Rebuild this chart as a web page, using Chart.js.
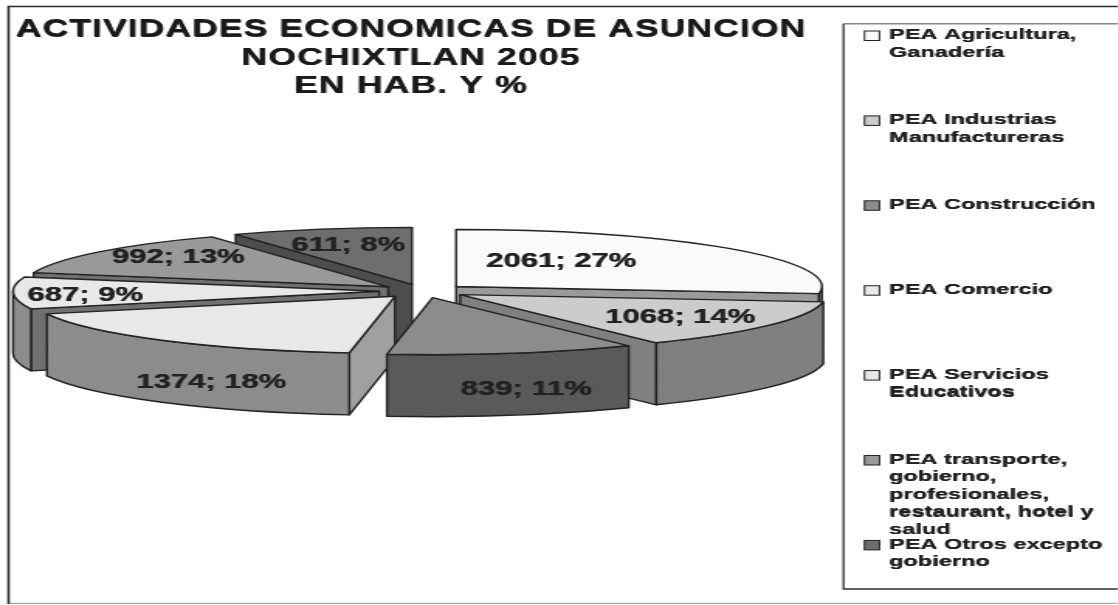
<!DOCTYPE html>
<html><head><meta charset="utf-8">
<style>html,body{margin:0;padding:0;background:#fff;overflow:hidden}
#wrap{width:1118px;height:605px;overflow:hidden}
canvas{display:block;transform-origin:0 0;transform:scaleX(1.55)}</style>
<script src="https://cdn.jsdelivr.net/npm/chart.js@4/dist/chart.umd.min.js"></script>
</head><body><div id="wrap"><canvas id="c" width="722" height="605"></canvas></div>
<script>
const titleLines = ["ACTIVIDADES ECONOMICAS DE ASUNCION","NOCHIXTLAN 2005","EN HAB. Y %"];
const categories = ["PEA Agricultura, Ganadería","PEA Industrias Manufactureras","PEA Construcción","PEA Comercio","PEA Servicios Educativos","PEA transporte, gobierno, profesionales, restaurant, hotel y salud","PEA Otros excepto gobierno"];
const legendLines = [["PEA Agricultura,","Ganadería"],["PEA Industrias","Manufactureras"],["PEA Construcción"],["PEA Comercio"],["PEA Servicios","Educativos"],["PEA transporte,","gobierno,","profesionales,","restaurant, hotel y","salud"],["PEA Otros excepto","gobierno"]];
const values = [2061,1068,839,1374,687,992,611];
const percents = [27,14,11,18,9,13,8];
const topColors = ["#fafafa","#cccccc","#8c8c8c","#e8e8e8","#e8e8e8","#999999","#6e6e6e"];
const wallColors = ["#9a9a9a","#808080","#5a5a5a","#8c8c8c","#8c8c8c","#707070","#4d4d4d"];
const sideColors = ["#9a9a9a","#808080","#5a5a5a","#a0a0a0","#707070","#707070","#4d4d4d"];
const paintOrder = [6,5,4,3,0,1,2];
const labelSpots = [[561,261],[680,317],[526,389],[211,382],[85,295],[178,257],[348,245]];

const S = 1.55;                 // horizontal stretch of the page image
const centre = {x:423/S, y:291};
const rx = 366/S, ry = 57, depth = 62, explodeRatio = 44/366;
const INK = "#222";

function heavyInk(c,dx){ c.shadowColor=INK; c.shadowBlur=0; c.shadowOffsetX=dx; c.shadowOffsetY=0.25; }
function plainInk(c){ c.shadowColor="transparent"; c.shadowOffsetX=0; c.shadowOffsetY=0; }

const stretched3D = {
  id:"stretched3D",
  beforeDraw(chart){
    const c = chart.ctx; c.save();
    c.fillStyle="#fff"; c.fillRect(0,0,chart.width,chart.height);
    c.strokeStyle="#aaa"; c.lineWidth=1.2;
    c.beginPath(); c.moveTo(8/S,603.3); c.lineTo(1118/S,603.3); c.stroke();
    c.strokeStyle="#2a2a2a"; c.lineWidth=1.6;
    c.beginPath(); c.moveTo(8.5/S,604); c.lineTo(8.5/S,6.5); c.lineTo(1118/S,6.5); c.stroke();
    c.restore();
    // the title layer draws next and picks these up
    heavyInk(c,0.4); c.letterSpacing="0.7px";
  },
  beforeDatasetsDraw(chart){
    const c = chart.ctx, arcs = chart.getDatasetMeta(0).data;
    plainInk(c); c.letterSpacing="0px";
    const clock = a => a + Math.PI/2;         // chart angle to clockwise-from-top
    c.save(); c.lineJoin="round"; c.lineWidth=1.4; c.strokeStyle=INK;
    paintOrder.forEach(i=>{
      const el = arcs[i], a0 = el.startAngle, a1 = el.endAngle;
      const mid = (a0+a1)/2;
      const ax = centre.x + Math.cos(mid)*explodeRatio*rx, ay = centre.y + Math.sin(mid)*explodeRatio*ry;
      const pt = a => [ax+Math.cos(a)*rx, ay+Math.sin(a)*ry];
      // radial face that looks toward the viewer
      const face = (a,col)=>{ const p=pt(a);
        c.beginPath(); c.moveTo(ax,ay); c.lineTo(p[0],p[1]); c.lineTo(p[0],p[1]+depth); c.lineTo(ax,ay+depth); c.closePath();
        c.fillStyle=col; c.fill(); c.stroke(); };
      if (Math.sin(clock(a0))<0) face(a0,sideColors[i]);
      if (Math.sin(clock(a1))>0) face(a1,sideColors[i]);
      // outer wall, front half only (chart angles 0..PI)
      const w0=Math.max(a0,0), w1=Math.min(a1,Math.PI);
      if (w1>w0){
        c.beginPath(); c.ellipse(ax,ay,rx,ry,0,w0,w1);
        c.ellipse(ax,ay+depth,rx,ry,0,w1,w0,true); c.closePath();
        c.fillStyle=wallColors[i]; c.fill(); c.stroke();
      }
      // top face
      c.beginPath(); c.moveTo(ax,ay); c.ellipse(ax,ay,rx,ry,0,a0,a1); c.closePath();
      c.fillStyle=topColors[i]; c.fill(); c.stroke();
    });
    c.restore();
    return false;
  },
  afterDraw(chart){
    const c = chart.ctx; c.save();
    // legend panel: open on the right, grey along the top
    c.strokeStyle="#888"; c.lineWidth=1.6;
    c.beginPath(); c.moveTo(843.5/S,23.8); c.lineTo(1118/S,23.8); c.stroke();
    c.strokeStyle="#333"; c.lineWidth=1.3;
    c.beginPath(); c.moveTo(843.5/S,23.8); c.lineTo(843.5/S,589); c.lineTo(1118/S,589); c.stroke();
    // value labels
    heavyInk(c,0.4);
    c.font="bold 20px 'Liberation Sans'"; c.fillStyle=INK; c.textAlign="center"; c.textBaseline="middle";
    values.forEach((v,i)=>c.fillText(v+"; "+percents[i]+"%",labelSpots[i][0]/S,labelSpots[i][1]));
    // legend entries
    c.font="bold 15px 'Liberation Sans'"; c.textAlign="left"; c.letterSpacing="0.1px";
    legendLines.forEach((lines,i)=>{
      const y0 = 35 + i*84.9;
      plainInk(c);
      c.fillStyle=topColors[i]; c.fillRect(864.5/S,y0-4,15/S,9.5);
      c.strokeStyle=INK; c.lineWidth=1; c.strokeRect(864.5/S,y0-4,15/S,9.5);
      heavyInk(c,0.3);
      c.fillStyle=INK;
      lines.forEach((t,j)=>c.fillText(t,889/S,y0+j*17.6));
    });
    c.restore();
  }
};

new Chart(document.getElementById("c"),{
  type:"pie",
  data:{labels:categories,datasets:[{data:values,backgroundColor:topColors,borderColor:INK}]},
  options:{
    responsive:false,animation:false,
    rotation:0,
    layout:{padding:{left:10,right:202}},
    plugins:{
      legend:{display:false},tooltip:{enabled:false},
      title:{display:true,fullSize:false,text:titleLines,color:"#1a1a1a",
        font:{family:"'Liberation Sans'",size:23,weight:"bold",lineHeight:1.23},
        padding:{top:16,bottom:4}}
    }
  },
  plugins:[stretched3D]
});
</script></body></html>
